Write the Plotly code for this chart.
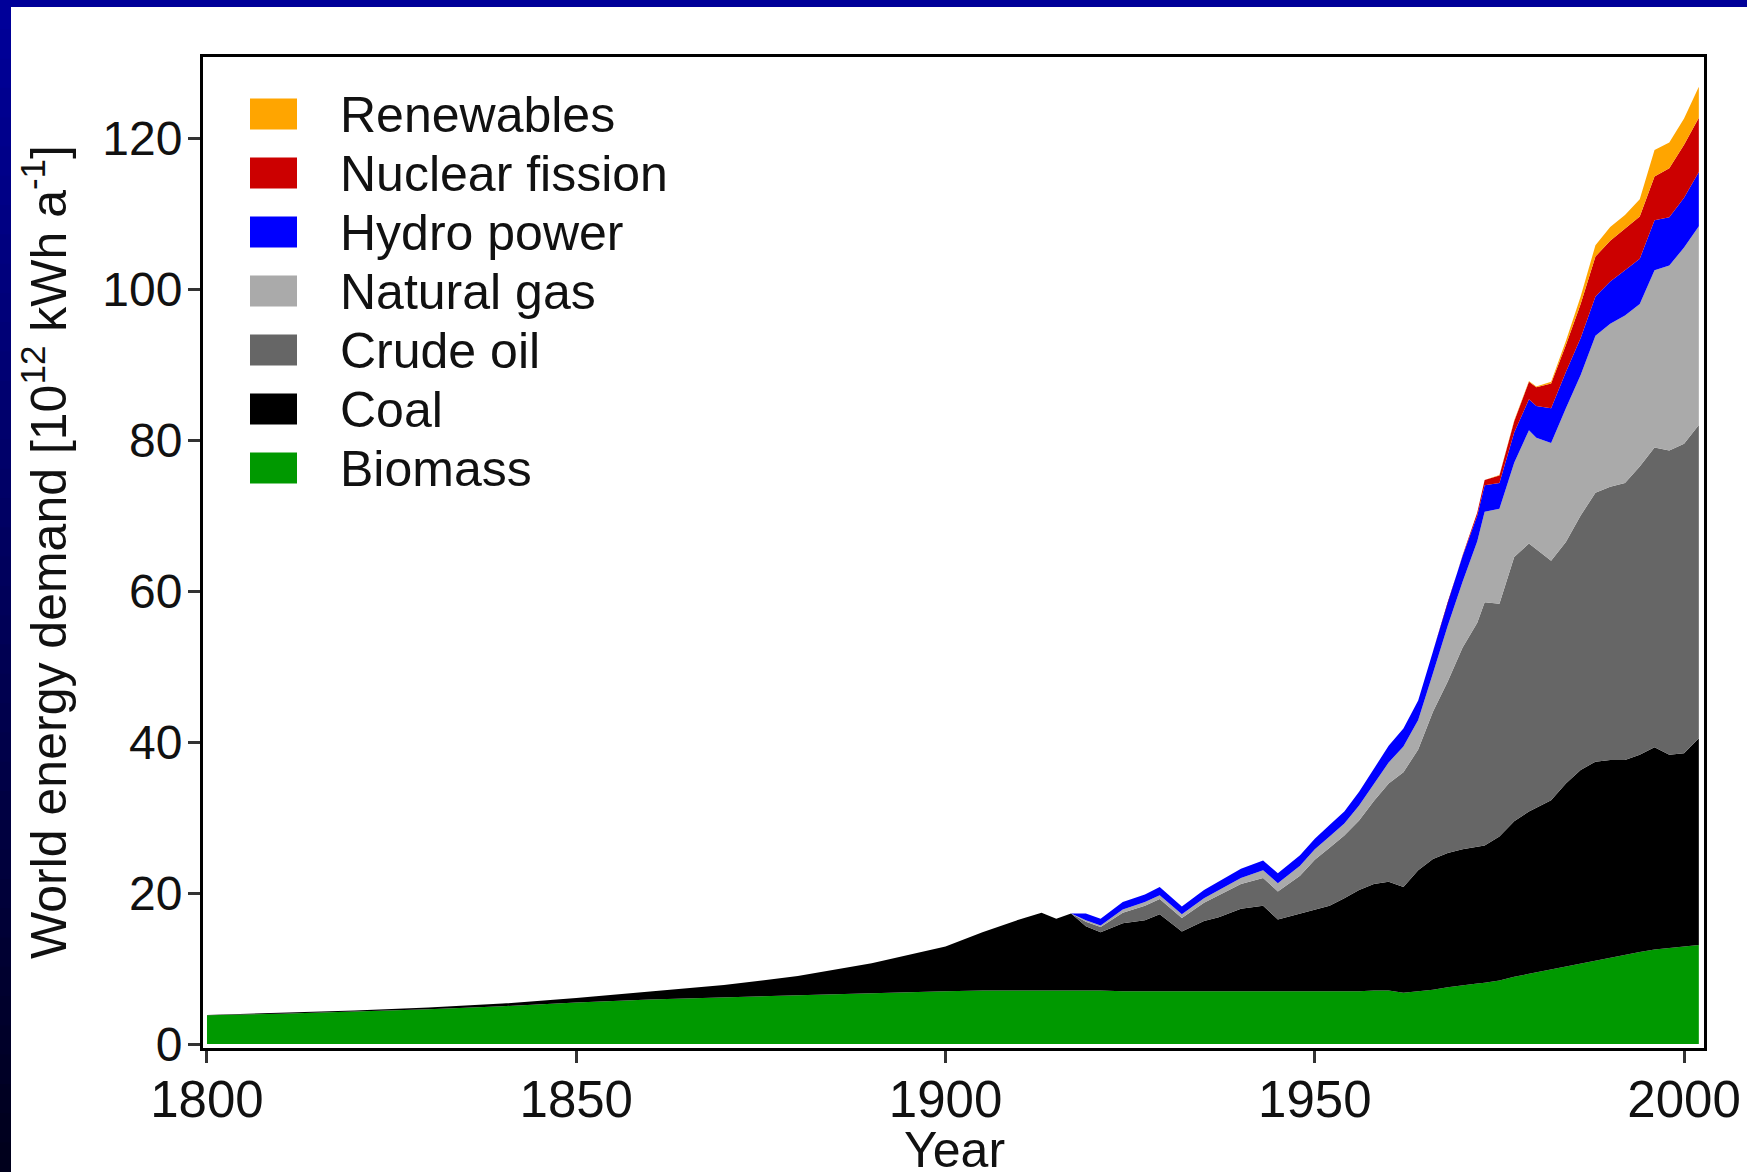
import plotly.graph_objects as go

# ---------------- data (10^12 kWh per year, stacked components) ----------------
years = [1800, 1810, 1820, 1830, 1840, 1850, 1860, 1870, 1880, 1890, 1900, 1905, 1910, 1913,
         1915, 1917, 1919, 1921, 1924, 1927, 1929, 1932, 1935, 1937, 1940, 1943, 1945, 1948,
         1950, 1952, 1954, 1956, 1958, 1960, 1962, 1964, 1966, 1968, 1970, 1972, 1973, 1975,
         1977, 1979, 1980, 1982, 1984, 1986, 1988, 1990, 1992, 1994, 1996, 1998, 2000, 2002]

biomass = [3.8, 4.0, 4.3, 4.6, 5.0, 5.5, 5.9, 6.2, 6.5, 6.8, 7.0, 7.1, 7.1, 7.1,
           7.1, 7.1, 7.1, 7.1, 7.0, 7.0, 7.0, 7.0, 7.0, 7.0, 7.0, 7.0, 7.0, 6.9,
           6.9, 6.9, 6.9, 7.0, 7.1, 7.1, 6.8, 7.0, 7.2, 7.5, 7.7, 8.0, 8.1, 8.4,
           8.9, 9.3, 9.5, 9.8, 10.2, 10.6, 11.0, 11.5, 11.9, 12.2, 12.5, 12.7, 12.9, 13.1]

coal = [0.05, 0.1, 0.15, 0.25, 0.35, 0.6, 1.0, 1.6, 2.5, 3.9, 5.9, 7.7, 9.4, 10.3,
        9.5, 10.2, 8.5, 7.7, 9.0, 9.4, 10.2, 7.9, 9.3, 9.8, 10.9, 11.3, 9.5, 10.4,
        10.9, 11.4, 12.4, 13.4, 14.1, 14.4, 14.0, 16.0, 17.3, 17.8, 18.1, 18.1, 18.2, 19.1,
        20.6, 21.5, 21.8, 22.5, 24.3, 25.7, 26.4, 26.1, 25.7, 26.1, 26.8, 25.6, 25.6, 27.4]

crude_oil = [0, 0, 0, 0, 0, 0, 0, 0, 0, 0, 0, 0, 0, 0,
             0, 0, 0.6, 0.7, 1.4, 1.9, 2.0, 1.8, 2.4, 2.9, 3.3, 3.7, 3.7, 5.0,
             6.6, 7.7, 8.3, 9.2, 11.0, 13.0, 15.2, 16.0, 19.5, 22.7, 26.7, 29.7, 32.2, 30.8,
             35.0, 35.5, 34.2, 31.7, 32.0, 33.7, 35.6, 36.2, 36.7, 38.2, 39.7, 40.3, 41.0, 41.5]

natural_gas = [0, 0, 0, 0, 0, 0, 0, 0, 0, 0, 0, 0, 0, 0,
               0, 0, 0.2, 0.2, 0.4, 0.5, 0.5, 0.5, 0.6, 0.7, 0.8, 1.0, 1.1, 1.3,
               1.4, 1.5, 1.6, 2.0, 2.3, 2.8, 3.4, 3.9, 5.1, 7.4, 8.7, 10.8, 12.0, 12.6,
               12.5, 15.0, 14.8, 15.6, 17.7, 18.6, 20.8, 21.6, 22.2, 21.5, 23.5, 24.5, 26.0, 26.3]

hydro = [0, 0, 0, 0, 0, 0, 0, 0, 0, 0, 0, 0, 0, 0,
         0, 0, 0.9, 0.9, 1.0, 1.0, 1.1, 1.0, 1.1, 1.1, 1.2, 1.3, 1.3, 1.4,
         1.4, 1.5, 1.6, 1.8, 2.0, 2.2, 2.4, 2.6, 2.9, 3.1, 3.4, 3.4, 3.5, 3.4,
         4.0, 4.1, 4.2, 4.6, 4.8, 4.9, 5.2, 5.6, 6.0, 6.0, 6.6, 6.4, 6.6, 7.2]

nuclear = [0, 0, 0, 0, 0, 0, 0, 0, 0, 0, 0, 0, 0, 0,
           0, 0, 0, 0, 0, 0, 0, 0, 0, 0, 0, 0, 0, 0,
           0, 0, 0, 0, 0, 0, 0, 0, 0, 0, 0.1, 0.4, 0.7, 1.0,
           1.5, 2.3, 2.5, 3.3, 3.6, 4.5, 5.3, 5.4, 5.5, 5.6, 5.8, 6.5, 7.0, 7.2]

renewables = [0, 0, 0, 0, 0, 0, 0, 0, 0, 0, 0, 0, 0, 0,
              0, 0, 0, 0, 0, 0, 0, 0, 0, 0, 0, 0, 0, 0,
              0, 0, 0, 0, 0, 0, 0, 0, 0, 0, 0, 0, 0, 0.05,
              0.1, 0.1, 0.1, 0.2, 0.5, 1.0, 1.5, 1.8, 1.8, 2.3, 3.5, 3.4, 3.5, 4.1]

series_names = ["Biomass", "Coal", "Crude oil", "Natural gas", "Hydro power",
                "Nuclear fission", "Renewables"]
series_values = [biomass, coal, crude_oil, natural_gas, hydro, nuclear, renewables]
series_colors = ["#009900", "#000000", "#666666", "#AAAAAA", "#0000FF", "#CC0000", "#FFA500"]

x_ticks = [1800, 1850, 1900, 1950, 2000]
y_ticks = [0, 20, 40, 60, 80, 100, 120]

# ---------------- layout geometry ----------------
W, H = 1747, 1172
ML, MR, MT, MB = 203, 43, 57, 124
PW, PH = W - ML - MR, H - MT - MB
FONT = "Liberation Sans, Arial, Helvetica, sans-serif"


def px(X):
    return (X - ML) / PW


def py(Y):
    return (H - MB - Y) / PH


fig = go.Figure()
for name, vals, col in zip(series_names, series_values, series_colors):
    fig.add_trace(go.Scatter(
        x=years, y=vals, name=name, stackgroup="energy", mode="lines",
        line=dict(width=0, color=col), fillcolor=col, showlegend=False,
        hoverinfo="x+y+name"))

shapes = []
annotations = []

# custom legend (top to bottom: reversed stacking order)
row0, row_step = 114, 59
for i, (name, col) in enumerate(zip(series_names[::-1], series_colors[::-1])):
    cy = row0 + i * row_step
    shapes.append(dict(type="rect", xref="paper", yref="paper",
                       x0=px(250), x1=px(297), y0=py(cy - 15.5), y1=py(cy + 15.5),
                       fillcolor=col, line=dict(width=0)))
    annotations.append(dict(text=name, xref="paper", yref="paper",
                            x=px(338), y=py(cy + 1), xanchor="left", yanchor="middle",
                            showarrow=False, font=dict(family=FONT, size=50, color="#111111")))

# dark blue frame: top band and left band with vertical gradient
shapes.append(dict(type="rect", xref="paper", yref="paper", x0=px(0), x1=px(W),
                   y0=py(0), y1=py(7), fillcolor="#000099", line=dict(width=0), layer="above"))
n_steps = 40
for k in range(n_steps):
    t = k / (n_steps - 1)
    b = int(round(153 + (28 - 153) * t))
    y_top = H * k / n_steps
    y_bot = H * (k + 1) / n_steps + 1
    shapes.append(dict(type="rect", xref="paper", yref="paper", x0=px(0), x1=px(11),
                       y0=py(min(y_bot, H)), y1=py(y_top),
                       fillcolor=f"rgb(0,0,{b})", line=dict(width=0), layer="above"))

# axis titles
annotations.append(dict(text="World energy demand [10<sup>12</sup> kWh a<sup>-1</sup>]",
                        xref="paper", yref="paper", x=px(45), y=py(552),
                        xanchor="center", yanchor="middle", textangle=-90, showarrow=False,
                        font=dict(family=FONT, size=50, color="#111111")))
annotations.append(dict(text="Year", xref="paper", yref="paper", x=px(954), y=py(1150),
                        xanchor="center", yanchor="middle", showarrow=False,
                        font=dict(family=FONT, size=50, color="#111111")))

axis_common = dict(showgrid=False, zeroline=False, showline=True, mirror=True,
                   linecolor="#000000", linewidth=3, ticks="outside", ticklen=12,
                   tickwidth=3, tickcolor="#333333")

fig.update_layout(
    width=W, height=H,
    margin=dict(l=ML, r=MR, t=MT, b=MB, autoexpand=False),
    paper_bgcolor="#FFFFFF", plot_bgcolor="#FFFFFF",
    showlegend=False,
    xaxis=dict(range=[1799.46, 2002.7], tickvals=x_ticks, ticklabelstandoff=-7,
               tickfont=dict(family=FONT, size=51, color="#111111"), **axis_common),
    yaxis=dict(range=[-0.53, 130.73], tickvals=y_ticks, ticklabelstandoff=-4,
               tickfont=dict(family=FONT, size=48, color="#111111"), **axis_common),
    shapes=shapes, annotations=annotations,
)

fig.write_html("out.html", config={"displayModeBar": False},
               post_script="document.body.style.margin='0';document.body.style.padding='0';"
                           "document.body.style.overflow='hidden';")
